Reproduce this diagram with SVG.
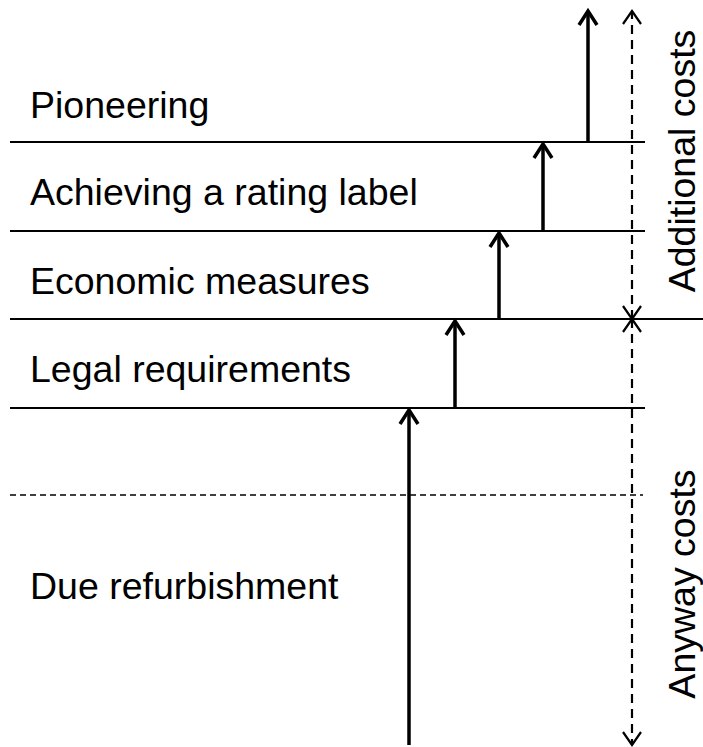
<svg xmlns="http://www.w3.org/2000/svg" width="703" height="747" viewBox="0 0 703 747">
<style>
.lbl{font-family:"Liberation Sans",Arial,sans-serif;font-size:37.5px;fill:#000}
.hl{stroke:#000;stroke-width:2;fill:none}
.hd{stroke:#000;stroke-width:1.6;stroke-dasharray:6 4;fill:none}
.arr{stroke:#000;stroke-width:3.5;fill:none;marker-end:url(#ah)}
.vd{stroke:#000;stroke-width:2.2;stroke-dasharray:9 6;fill:none;marker-start:url(#dh);marker-end:url(#dh)}
</style>
<defs>
<marker id="ah" markerUnits="userSpaceOnUse" markerWidth="40" markerHeight="40" viewBox="-20 -20 40 40" refX="0" refY="0" orient="auto" overflow="visible">
<path d="M-14,-9 L0,0 L-14,9" fill="none" stroke="#000" stroke-width="3.5" stroke-linejoin="miter"/>
</marker>
<marker id="dh" markerUnits="userSpaceOnUse" markerWidth="40" markerHeight="40" viewBox="-20 -20 40 40" refX="0" refY="0" orient="auto-start-reverse" overflow="visible">
<path d="M-13,-9 L0,0 L-13,9" fill="none" stroke="#000" stroke-width="2.2"/>
</marker>
</defs>
<rect width="703" height="747" fill="#fff"/>
<g id="levels">
<line class="hl" x1="10" y1="142" x2="645" y2="142"/>
<line class="hl" x1="10" y1="231" x2="645" y2="231"/>
<line class="hl" x1="10" y1="319" x2="703" y2="319"/>
<line class="hl" x1="10" y1="408" x2="645" y2="408"/>
<line class="hd" x1="10" y1="495" x2="643" y2="495"/>
</g>
<g id="connectors">
<line class="arr" x1="409" y1="745" x2="409" y2="410"/>
<line class="arr" x1="455" y1="408" x2="455" y2="321"/>
<line class="arr" x1="499" y1="319" x2="499" y2="233"/>
<line class="arr" x1="543" y1="231" x2="543" y2="144"/>
<line class="arr" x1="588" y1="142" x2="588" y2="11"/>
<line class="vd" x1="632" y1="319" x2="632" y2="11"/>
<line class="vd" x1="632" y1="319" x2="632" y2="745"/>
</g>
<g id="pioneering"><text class="lbl" x="30" y="118">Pioneering</text></g>
<g id="rating"><text class="lbl" x="30" y="205">Achieving a rating label</text></g>
<g id="economic"><text class="lbl" x="30" y="294">Economic measures</text></g>
<g id="legal"><text class="lbl" x="30" y="382">Legal requirements</text></g>
<g id="due"><text class="lbl" x="30" y="599">Due refurbishment</text></g>
<g id="additional"><text class="lbl" text-anchor="middle" transform="translate(695,161) rotate(-90)">Additional costs</text></g>
<g id="anyway"><text class="lbl" text-anchor="middle" transform="translate(695,584) rotate(-90)">Anyway costs</text></g>
</svg>
